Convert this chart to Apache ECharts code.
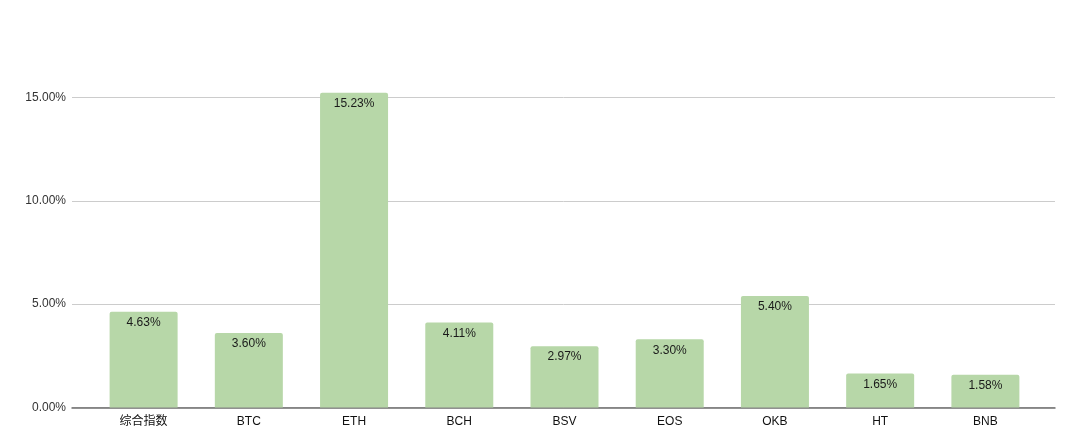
<!DOCTYPE html>
<html>
<head>
<meta charset="utf-8">
<script src="https://cdn.jsdelivr.net/npm/echarts@6/dist/echarts.min.js"></script>
<style>
html,body{margin:0;padding:0;background:#fff;}
#chart{width:1080px;height:446px;}
</style>
</head>
<body>
<div id="chart"></div>
<script>
const categories = ['综合指数', 'BTC', 'ETH', 'BCH', 'BSV', 'EOS', 'OKB', 'HT', 'BNB'];
const values = [4.63, 3.60, 15.23, 4.11, 2.97, 3.30, 5.40, 1.65, 1.58];
const yTicks = [0, 5, 10, 15];

const FONT = 'Arial, "Liberation Sans", "Noto Sans CJK SC", sans-serif';
const chart = echarts.init(document.getElementById('chart'));
const yMin = 0, yStep = 5, yMax = 19.72; // visible top of plot (the 20% line lies just above the frame)

chart.setOption({
  animation: false,
  backgroundColor: '#ffffff',
  grid: [
    { left: 72, right: 25, top: 0, bottom: 38.5, containLabel: false },
    { left: 91, right: 42, top: 0, bottom: 38.5, containLabel: false }
  ],
  xAxis: [
    {
      gridIndex: 0, type: 'category', data: [''],
      axisLine: { show: true, lineStyle: { color: '#6e6e6e', width: 1.5 } },
      axisTick: { show: false }, axisLabel: { show: false }, splitLine: { show: false }
    },
    {
      gridIndex: 1, type: 'category', data: categories,
      axisLine: { show: false }, axisTick: { show: false },
      axisLabel: { color: '#111', fontSize: 12, fontFamily: FONT, margin: 8 }
    }
  ],
  yAxis: [
    {
      gridIndex: 0, type: 'value', min: yMin, max: yMax, interval: yStep,
      axisLine: { show: false }, axisTick: { show: false },
      axisLabel: { color: '#333', fontSize: 12, fontFamily: FONT, margin: 6,
        showMaxLabel: false,
        formatter: v => (yTicks.indexOf(v) >= 0 ? v.toFixed(2) + '%' : '') },
      splitLine: { showMaxLine: false, lineStyle: { color: '#cccccc', width: 1 } }
    },
    {
      gridIndex: 1, type: 'value', min: yMin, max: yMax, interval: yStep,
      show: false, splitLine: { show: false }
    }
  ],
  series: [
    {
      type: 'bar', xAxisIndex: 1, yAxisIndex: 1, data: values,
      barWidth: 68,
      itemStyle: { color: '#b7d7a8', borderRadius: [2, 2, 0, 0] },
      label: {
        show: true, position: 'insideTop', distance: 5,
        color: '#1a1a1a', fontSize: 12, fontFamily: FONT,
        formatter: p => p.value.toFixed(2) + '%'
      },
      z: 3
    }
  ]
});
</script>
</body>
</html>
